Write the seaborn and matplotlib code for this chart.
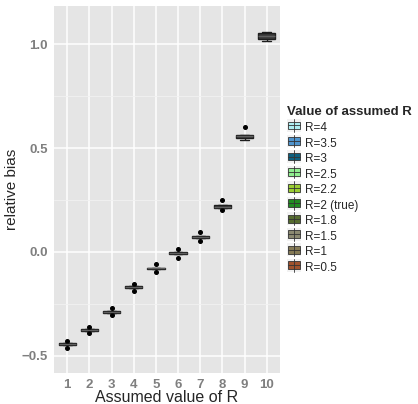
import numpy as np
import pandas as pd
import matplotlib
matplotlib.use("Agg")
import matplotlib.pyplot as plt
from matplotlib.patches import Rectangle
from matplotlib.lines import Line2D
from matplotlib.legend_handler import HandlerBase
import seaborn as sns

# assumed R per category (x position 1..10)
groups = ["1", "2", "3", "4", "5", "6", "7", "8", "9", "10"]
r_labels = ["R=0.5", "R=1", "R=1.5", "R=1.8", "R=2 (true)",
            "R=2.2", "R=2.5", "R=3", "R=3.5", "R=4"]
r_colors = ["#a0522d", "#857a55", "#8b8970", "#556b2f", "#228b22",
            "#9acd32", "#90ee90", "#0b5f7f", "#4f94cd", "#aeeef2"]

# box summaries
med = [-0.443, -0.375, -0.287, -0.167, -0.079, -0.006, 0.074, 0.218, 0.556, 1.038]
q_lo = [-0.448, -0.380, -0.292, -0.172, -0.084, -0.011, 0.069, 0.212, 0.547, 1.025]
q_hi = [-0.439, -0.371, -0.283, -0.163, -0.075, -0.001, 0.079, 0.224, 0.565, 1.052]
v_lo = [-0.460, -0.391, -0.303, -0.186, -0.098, -0.030, 0.053, 0.202, 0.540, 1.013]
v_hi = [-0.430, -0.362, -0.271, -0.154, -0.058, 0.014, 0.096, 0.250, 0.600, 1.060]

rows = []
for i, g in enumerate(groups):
    for v in [v_lo[i], q_lo[i], q_lo[i], med[i], q_hi[i], q_hi[i], v_hi[i]]:
        rows.append({"x": g, "R": r_labels[i], "bias": v})
df = pd.DataFrame(rows)

sns.set_style("white")
plt.rcParams["font.family"] = ["Liberation Sans", "DejaVu Sans"]

fig = plt.figure(figsize=(4.18, 4.04), dpi=100)
ax = fig.add_axes([54 / 418, 31 / 404, 226 / 418, 367 / 404])
ax.set_facecolor("#e5e5e5")

sns.boxplot(data=df, x="x", y="bias", order=groups, color="#3a3a3a",
            saturation=1, width=0.78, whis=0.5, linewidth=1.0,
            linecolor="#1e1e1e",
            medianprops=dict(color="#606060", linewidth=1.0),
            flierprops=dict(marker="o", markerfacecolor="black",
                            markeredgecolor="black", markersize=2.6),
            ax=ax, zorder=3)

ax.set_xlim(-0.6, 9.6)
ax.set_ylim(-0.582, 1.183)
ax.set_yticks([-0.5, 0.0, 0.5, 1.0])
ax.set_yticklabels(["\u22120.5", "0.0", "0.5", "1.0"])
ax.set_yticks([-0.25, 0.25, 0.75], minor=True)
ax.grid(True, which="major", color="white", linewidth=1.1, zorder=0)
ax.grid(True, which="minor", axis="y", color="#f2f2f2", linewidth=0.6, zorder=0)
ax.set_axisbelow(True)
for s in ax.spines.values():
    s.set_visible(False)

ax.tick_params(axis="both", which="major", length=3, width=0.8, color="#7f7f7f",
               labelcolor="#7f7f7f", labelsize=9.5, pad=1.5)
ax.tick_params(axis="y", which="minor", length=0)
for t in ax.get_xticklabels() + ax.get_yticklabels():
    t.set_fontweight("bold")

ax.set_xlabel("Assumed value of R", fontsize=11.5, labelpad=-1)
ax.set_ylabel("relative bias", fontsize=11, labelpad=2)


class BoxKey(HandlerBase):
    # small boxplot glyph like the ggplot legend keys
    def create_artists(self, legend, orig, x0, y0, width, height, fontsize, trans):
        fc = orig.get_facecolor()
        bg = Rectangle((x0, y0 - 0.15 * height), width, height * 1.3,
                       facecolor="#f2f2f2", edgecolor="none", transform=trans)
        box = Rectangle((x0 + 0.1 * width, y0 + 0.1 * height), 0.8 * width,
                        0.8 * height, facecolor=fc, edgecolor="#333333",
                        linewidth=0.6, transform=trans)
        mid = Line2D([x0 + 0.1 * width, x0 + 0.9 * width],
                     [y0 + 0.5 * height] * 2, color="#333333", linewidth=0.6,
                     transform=trans)
        wh = Line2D([x0 + 0.5 * width] * 2, [y0 - 0.15 * height, y0 + 1.15 * height],
                    color="#333333", linewidth=0.6, transform=trans)
        return [bg, box, mid, wh]


handles = [Rectangle((0, 0), 1, 1, facecolor=c) for c in r_colors]
leg = fig.legend(handles[::-1], r_labels[::-1], title="Value of assumed R",
                 loc="upper left", bbox_to_anchor=(287 / 418, 1 - 106 / 404),
                 frameon=False, fontsize=8.5, title_fontsize=9.5,
                 handlelength=1.2, handleheight=0.9, labelspacing=0.3,
                 handletextpad=0.3, borderaxespad=0, borderpad=0,
                 handler_map={Rectangle: BoxKey()})
leg.get_title().set_fontweight("bold")
leg._legend_box.align = "left"
leg._legend_box.sep = 3

fig.savefig("out.png", dpi=100)
